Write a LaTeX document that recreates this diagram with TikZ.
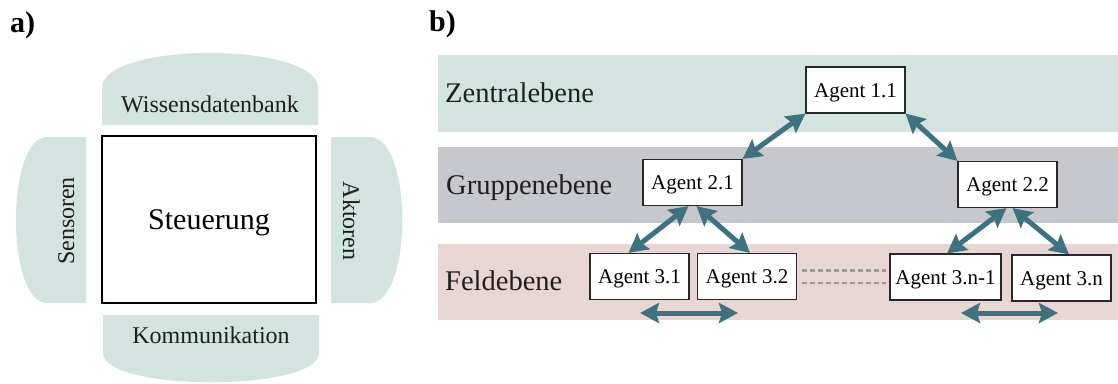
\documentclass[tikz,border=0pt]{standalone}
\usepackage{fontspec}
\setmainfont{Liberation Serif}
\usetikzlibrary{arrows.meta}

\definecolor{paleteal}{RGB}{211,227,224}
\definecolor{palegray}{RGB}{198,200,205}
\definecolor{palerose}{RGB}{232,214,212}
\definecolor{linkteal}{RGB}{62,114,127}
\definecolor{boxline}{RGB}{40,40,40}
\definecolor{dashgray}{RGB}{155,155,155}

\begin{document}
\begin{tikzpicture}[x=1pt,y=-1pt,
  panel/.style={font=\bfseries\fontsize{30}{34}\selectfont, inner sep=0pt, anchor=base west},
  part/.style={font=\fontsize{24}{28}\selectfont, inner sep=0pt, anchor=base, text=black!88},
  level/.style={font=\fontsize{28.5}{32}\selectfont, inner sep=0pt, anchor=base west, text=black!88},
  agent/.style={draw=boxline, line width=1.2pt, fill=white, minimum width=99pt,
    minimum height=46pt, inner sep=0pt, text height=14pt, text depth=0pt,
    font=\fontsize{21}{24}\selectfont},
  link/.style={draw=linkteal, line width=5pt, <->, >={Stealth[length=19pt,width=20pt,inset=3pt]}},
  sidelink/.style={dashgray, line width=2.8pt, dash pattern=on 5pt off 3pt}
]
\useasboundingbox (0,0) rectangle (1118,383);

% ---------- a) single agent ----------
\node[panel] (pa) at (10,32) {a)};

\fill[paleteal] (102,125) -- (102,88) .. controls (102,41.3) and (318,41.3) .. (318,88) -- (318,125) -- cycle;
\fill[paleteal] (86,137) -- (47,137) .. controls (5.7,137) and (5.7,303) .. (47,303) -- (86,303) -- cycle;
\fill[paleteal] (331,137) -- (370,137) .. controls (413,137) and (413,303) .. (370,303) -- (331,303) -- cycle;
\fill[paleteal] (103,315) -- (103,353) .. controls (103,392) and (319,392) .. (319,353) -- (319,315) -- cycle;

\node[draw=black, line width=1.1pt, minimum width=214pt, minimum height=167pt, inner sep=0pt,
      text height=20pt, text depth=0pt, font=\fontsize{30}{34}\selectfont] (steu) at (209,219.5) {Steuerung};
\node[part] (wissen) at (210,112) {Wissensdatenbank};
\node[part] (komm) at (211,343) {Kommunikation};
\node[part, rotate=90] (sens) at (74,221) {Sensoren};
\node[part, rotate=-90] (akt) at (343,221) {Aktoren};

% ---------- b) agent hierarchy ----------
\node[panel] (pb) at (429,31) {b)};

\fill[paleteal] (438,55) rectangle (1118,132);
\fill[palegray] (438,147) rectangle (1118,223);
\fill[palerose] (438,244) rectangle (1118,320);

\node[level] (zen) at (445,102) {Zentralebene};
\node[level] (grp) at (446,194) {Gruppenebene};
\node[level] (fld) at (445,290) {Feldebene};

\node[agent] (A11) at (855.5,90) {Agent 1.1};
\node[agent] (A21) at (692.5,182.5) {Agent 2.1};
\node[agent] (A22) at (1007.5,184.5) {Agent 2.2};
\node[agent] (A31) at (639.5,276.5) {Agent 3.1};
\node[agent] (A32) at (747,276.5) {Agent 3.2};
\node[agent, minimum width=111pt] (A3n1) at (945.5,277) {Agent 3.n-1};
\node[agent] (A3n) at (1061.5,278) {Agent 3.n};

\draw[link] (A11.south west) -- (A21.north east);
\draw[link] (A11.south east) -- (A22.north west);
\draw[link] ([xshift=-4pt]A21.south) -- ([xshift=-11pt]A31.north);
\draw[link] ([xshift=4pt]A21.south) -- ([xshift=3pt]A32.north);
\draw[link] ([xshift=-1pt]A22.south) -- ([xshift=1.5pt]A3n1.north);
\draw[link] ([xshift=5pt]A22.south) -- ([xshift=7.5pt]A3n.north);

\coordinate (h1l) at (640,313);
\coordinate (h1r) at (738,313);
\coordinate (h2l) at (961,313);
\coordinate (h2r) at (1058,313);
\draw[link] (h1l) -- (h1r);
\draw[link] (h2l) -- (h2r);

\coordinate (d1l) at (802,270.7);
\coordinate (d1r) at (886,270.7);
\coordinate (d2l) at (802,283);
\coordinate (d2r) at (886,283);
\draw[sidelink] (d1l) -- (d1r);
\draw[sidelink] (d2l) -- (d2r);
\end{tikzpicture}
\end{document}
